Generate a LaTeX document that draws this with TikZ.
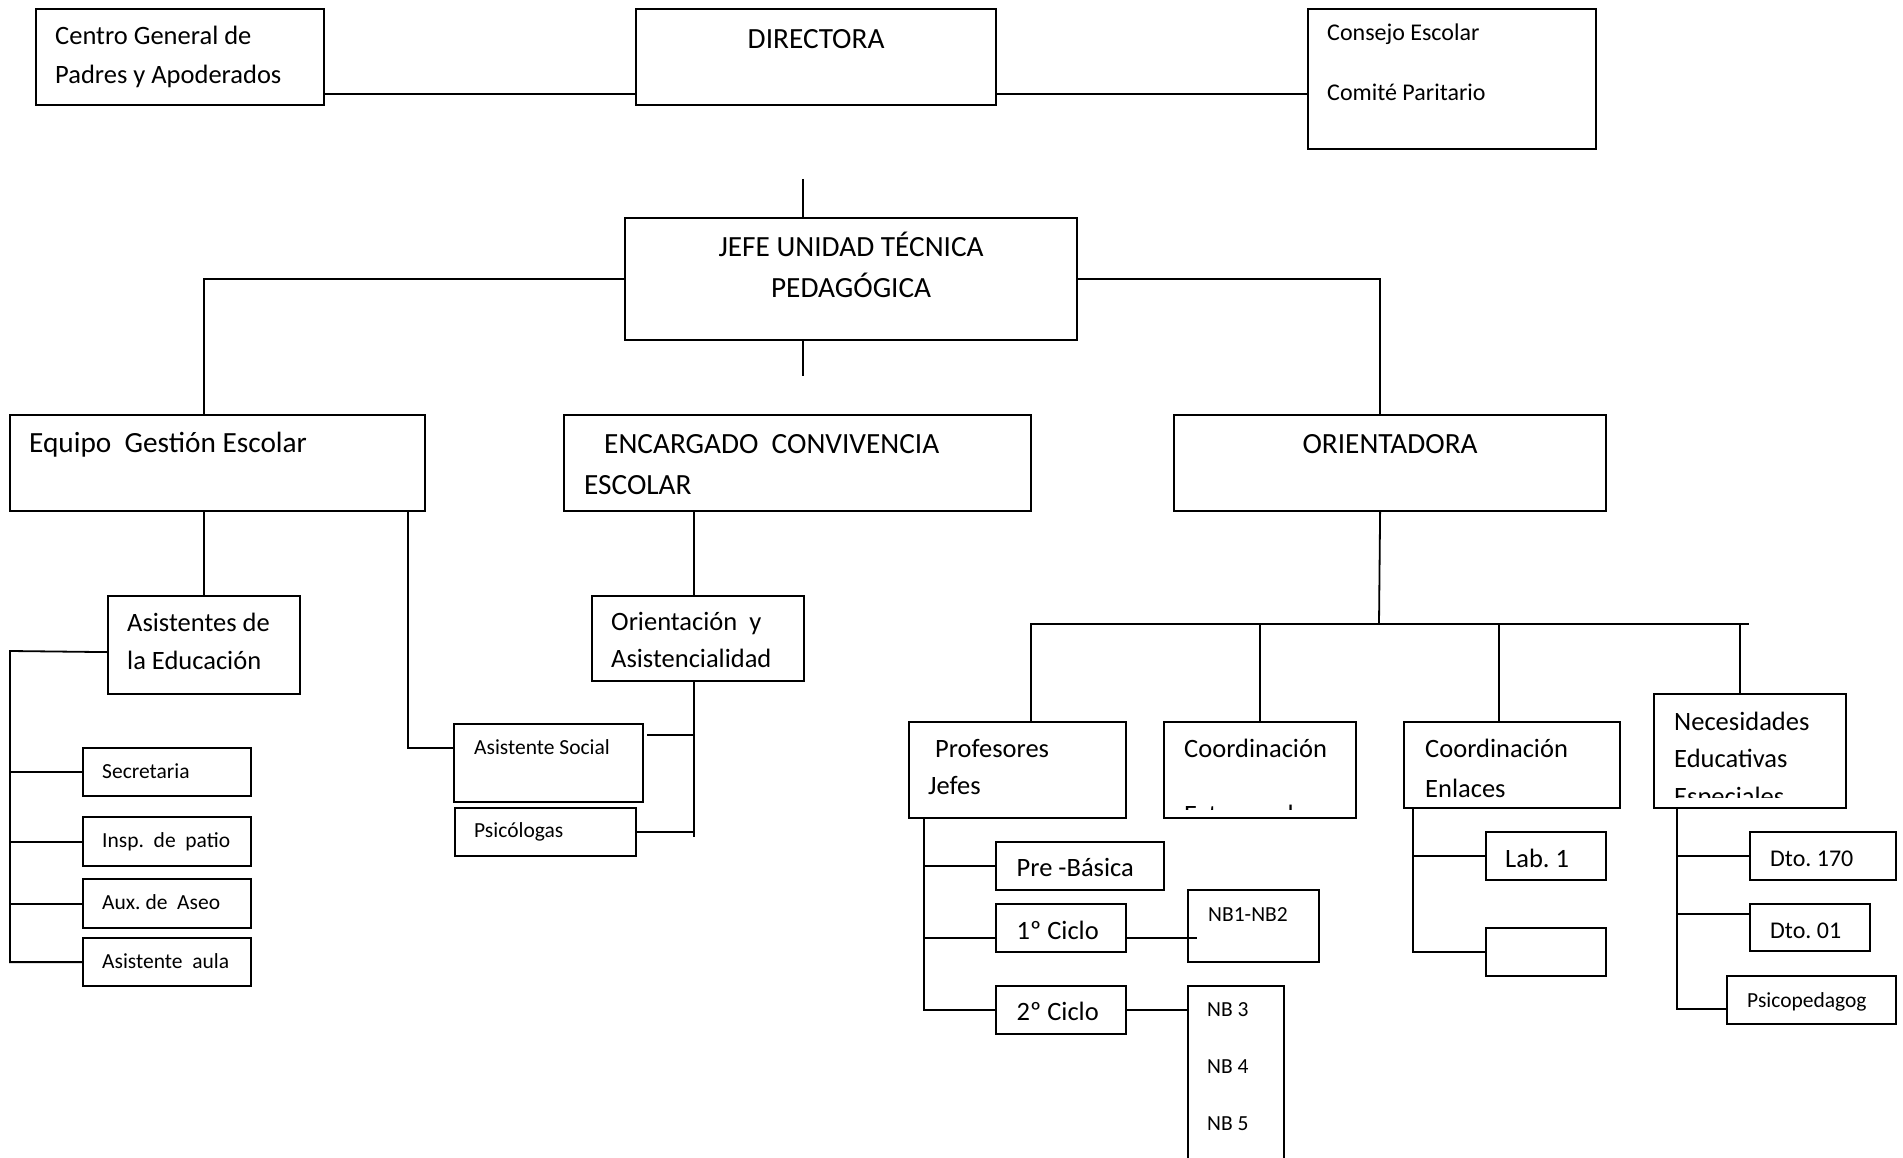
\documentclass[tikz,border=0pt]{standalone}
\usepackage{fontspec}
\setmainfont{Carlito}
\usetikzlibrary{positioning}

\begin{document}
\begin{tikzpicture}[x=1pt, y=-1pt,
  block/.style = {draw, line width=2.2pt, anchor=north west, inner sep=0pt},
  btext/.style = {inner sep=0pt, align=left, font=\fontsize{26.5}{38}\selectfont},
  htext/.style = {btext, font=\fontsize{29.3}{41}\selectfont},
  mtext/.style = {btext, font=\fontsize{24}{30}\selectfont},
  stext/.style = {btext, font=\fontsize{21.5}{28}\selectfont},
  line/.style = {draw, line width=1.8pt}]
\clip (0,0) rectangle (1903,1158);

\node[block, minimum width=288pt, minimum height=96pt] (centro) at (35,8) {};
\node[block, minimum width=360pt, minimum height=96pt] (directora) at (635,8) {};
\node[block, minimum width=288pt, minimum height=140pt] (consejo) at (1307,8) {};
\node[block, minimum width=452pt, minimum height=122pt] (jefe) at (624,217) {};
\node[block, minimum width=415pt, minimum height=96pt] (equipo) at (9,414) {};
\node[block, minimum width=467pt, minimum height=96pt] (encargado) at (563,414) {};
\node[block, minimum width=432pt, minimum height=96pt] (orient) at (1173,414) {};
\node[block, minimum width=192pt, minimum height=98pt] (asistedu) at (107,595) {};
\node[block, minimum width=212pt, minimum height=85pt] (orienasist) at (591,595) {};
\node[block, minimum width=189pt, minimum height=78pt] (asistsoc) at (453,723) {};
\node[block, minimum width=181pt, minimum height=48pt] (psicol) at (454,807) {};
\node[block, minimum width=168pt, minimum height=48pt] (secret) at (82,747) {};
\node[block, minimum width=168pt, minimum height=49pt] (insp) at (82,816) {};
\node[block, minimum width=168pt, minimum height=49pt] (aseo) at (82,878) {};
\node[block, minimum width=168pt, minimum height=48pt] (aula) at (82,937) {};
\node[block, minimum width=217pt, minimum height=96pt] (prof) at (908,721) {};
\node[block, minimum width=192pt, minimum height=96pt] (coordext) at (1163,721) {};
\node[block, minimum width=216pt, minimum height=86pt] (enlaces) at (1403,721) {};
\node[block, minimum width=192pt, minimum height=114pt] (nee) at (1653,693) {};
\node[block, minimum width=168pt, minimum height=48pt] (prebas) at (995,841) {};
\node[block, minimum width=130pt, minimum height=48pt] (ciclo1) at (995,903) {};
\node[block, minimum width=130pt, minimum height=48pt] (ciclo2) at (995,985) {};
\node[block, minimum width=131pt, minimum height=72pt] (nb12) at (1187,889) {};
\node[block, minimum width=96pt, minimum height=200pt] (nb345) at (1187,985) {};
\node[block, minimum width=120pt, minimum height=48pt] (lab1) at (1485,831) {};
\node[block, minimum width=120pt, minimum height=48pt] (labvacio) at (1485,927) {};
\node[block, minimum width=146pt, minimum height=48pt] (dto170) at (1749,831) {};
\node[block, minimum width=120pt, minimum height=47pt] (dto01) at (1749,903) {};
\node[block, minimum width=169pt, minimum height=48pt] (psicoped) at (1726,975) {};

\node[btext, font=\fontsize{26.5}{39}\selectfont, below right=18pt and 20pt of centro.north west] (tcentro) {Centro General de\\Padres y Apoderados};
\node[htext, below=21pt of directora.north] (tdirectora) {DIRECTORA};
\node[mtext, font=\fontsize{24}{60}\selectfont, below right=16pt and 20pt of consejo.north west] (tconsejo) {Consejo Escolar\\Comité Paritario};
\node[htext, align=center, below=15pt of jefe.north] (tjefe) {JEFE UNIDAD TÉCNICA\\PEDAGÓGICA};
\node[htext, below right=18pt and 20pt of equipo.north west] (tequipo) {Equipo\ \ Gestión Escolar};
\node[htext, below right=20pt and 21pt of encargado.north west] (tencargado) {\hspace{20pt}ENCARGADO\ \ CONVIVENCIA\\ESCOLAR};
\node[htext, below=20pt of orient.north] (torient) {ORIENTADORA};
\node[btext, below right=18pt and 20pt of asistedu.north west] (tasistedu) {Asistentes de\\la Educación};
\node[btext, font=\fontsize{26.5}{37}\selectfont, below right=17pt and 20pt of orienasist.north west] (torienasist) {Orientación\ \ y\\Asistencialidad};
\node[stext, below right=16.5pt and 21pt of asistsoc.north west] (tasistsoc) {Asistente Social};
\node[stext, below right=15.5pt and 20pt of psicol.north west] (tpsicol) {Psicólogas};
\node[stext, below right=16.5pt and 20pt of secret.north west] (tsecret) {Secretaria};
\node[stext, below right=16.5pt and 20pt of insp.north west] (tinsp) {Insp.\ \ de\ \ patio};
\node[stext, below right=16.5pt and 20pt of aseo.north west] (taseo) {Aux.\ de\ \ Aseo};
\node[stext, below right=16.5pt and 20pt of aula.north west] (taula) {Asistente\ \ aula};
\node[btext, font=\fontsize{26.5}{37.3}\selectfont, below right=18pt and 20pt of prof.north west] (tprof) {\hspace{7pt}Profesores\\Jefes};
\begin{scope}
  \clip (coordext.north west) rectangle ([yshift=10pt]coordext.south east);
  \node[btext, below right=18pt and 21pt of coordext.north west] (tcoordext) {Coordinación\\[28pt]Extraescolar};
\end{scope}
\node[btext, font=\fontsize{26.5}{40}\selectfont, below right=18pt and 22pt of enlaces.north west] (tenlaces) {Coordinación\\Enlaces};
\begin{scope}
  \clip (nee.north west) rectangle ([yshift=12pt]nee.south east);
  \node[btext, font=\fontsize{26.5}{37.3}\selectfont, below right=19pt and 21pt of nee.north west] (tnee) {Necesidades\\Educativas\\Especiales};
\end{scope}
\node[btext, below right=17.5pt and 21.5pt of prebas.north west] (tprebas) {Pre -Básica};
\node[btext, below right=18pt and 21.5pt of ciclo1.north west] (tciclo1) {1º Ciclo};
\node[btext, below right=17pt and 21.5pt of ciclo2.north west] (tciclo2) {2º Ciclo};
\node[stext, below right=18pt and 21pt of nb12.north west] (tnb12) {NB1-NB2};
\node[stext, font=\fontsize{21.5}{57}\selectfont, below right=17.5pt and 20pt of nb345.north west] (tnb345) {NB 3\\NB 4\\NB 5};
\node[btext, below right=18pt and 20pt of lab1.north west] (tlab1) {Lab.\ 1};
\node[mtext, below right=20pt and 21pt of dto170.north west] (tdto170) {Dto.\ 170};
\node[mtext, below right=19.5pt and 21pt of dto01.north west] (tdto01) {Dto.\ 01};
\node[stext, below right=17pt and 21pt of psicoped.north west] (tpsicoped) {Psicopedagog};

\coordinate (dstub) at (803,179);
\coordinate (jstub) at (803,376);
\coordinate (abus) at (10,651);
\coordinate (obus) at (694,837);
\coordinate (sbranch) at (647,735);
\coordinate (bus) at (1379,624);
\coordinate (busend) at (1749,624);

\path[line] ([yshift=-37pt]centro.east) -- ([yshift=-37pt]directora.west);
\path[line] ([yshift=-37pt]directora.east) -- ([yshift=-15pt]consejo.west);
\path[line] (dstub) -- (dstub |- jefe.north);
\path[line] (jstub |- jefe.south) -- (jstub);
\path[line] (jefe.west) -| (equipo.north -| asistedu.north);
\path[line] (jefe.east) -| ([xshift=-10pt]orient.north);
\path[line] (asistedu.north |- equipo.south) -- (asistedu.north);
\path[line] ([xshift=-18pt]equipo.south east) |- ([yshift=15pt]asistsoc.west);
\path[line] ([yshift=-7pt]asistedu.west) -- (abus) |- (aula.west);
\path[line] (abus) |- (secret.west);
\path[line] (abus) |- (insp.west);
\path[line] (abus) |- (aseo.west);
\path[line] (obus |- encargado.south) -- (obus |- orienasist.north);
\path[line] (obus |- orienasist.south) -- (obus);
\path[line] (obus |- psicol.east) -- (psicol.east);
\path[line] (sbranch) -- (sbranch -| obus);
\path[line] ([xshift=-10pt]orient.south) -- (bus);
\path[line] ([xshift=13pt]prof.north) |- (busend);
\path[line] (coordext.north) |- (bus);
\path[line] ([xshift=-13pt]enlaces.north) |- (bus);
\path[line] ([xshift=-10pt]nee.north) |- (bus);
\path[line] ([xshift=16pt]prof.south west) |- (ciclo2.west);
\path[line] ([xshift=16pt]prof.south west) |- (prebas.west);
\path[line] ([xshift=16pt]prof.south west) |- ([yshift=-10pt]ciclo1.west);
\path[line] ([yshift=-10pt]ciclo1.east) -- ([xshift=10pt,yshift=-12pt]nb12.west);
\path[line] (ciclo2.east) -- (ciclo2.east -| nb345.west);
\path[line] ([xshift=10pt]enlaces.south west) |- (labvacio.west);
\path[line] ([xshift=10pt]enlaces.south west) |- (lab1.west);
\path[line] ([xshift=24pt]nee.south west) |- ([yshift=-9pt]psicoped.west);
\path[line] ([xshift=24pt]nee.south west) |- (dto170.west);
\path[line] ([xshift=24pt]nee.south west) |- ([yshift=14pt]dto01.west);
\end{tikzpicture}
\end{document}
